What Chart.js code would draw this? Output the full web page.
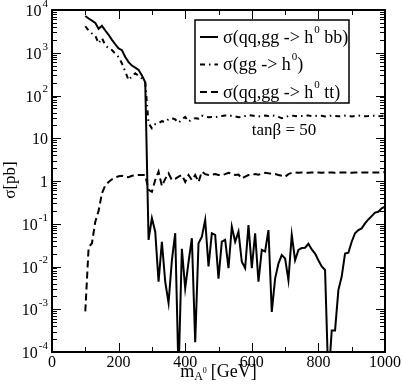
<!DOCTYPE html>
<html>
<head>
<meta charset="utf-8">
<script src="https://cdn.jsdelivr.net/npm/chart.js@4"></script>
<style>
  html, body { margin: 0; padding: 0; background: #fff; }
  #chart { display: block; }
</style>
</head>
<body>
<canvas id="chart" width="403" height="392"></canvas>
<script>
// m_A0 grid [GeV]
const masses = [
  100, 110, 120, 130, 140, 150, 160, 170, 180, 190,
  200, 210, 220, 230, 240, 250, 260, 270, 280, 290,
  300, 310, 320, 330, 340, 350, 360, 370, 380, 390,
  400, 410, 420, 430, 440, 450, 460, 470, 480, 490,
  500, 510, 520, 530, 540, 550, 560, 570, 580, 590,
  600, 610, 620, 630, 640, 650, 660, 670, 680, 690,
  700, 710, 720, 730, 740, 750, 760, 770, 780, 790,
  800, 810, 820, 830, 840, 850, 860, 870, 880, 890,
  900, 910, 920, 930, 940, 950, 960, 970, 980, 990,
  1000
];

// sigma(qq,gg -> h0 bb) [pb]
const sigmaBB = [
  7240, 6310, 5620, 5010, 3630, 4270, 3310, 2630, 2000, 1580,
  1260, 1150, 794, 603, 501, 447, 398, 295, 204, 0.042,
  0.135, 0.065, 0.0044, 0.038, 0.0044, 0.0014, 0.014, 0.060, 0.00003, 0.026,
  0.0031, 0.0126, 0.046, 0.00017, 0.035, 0.050, 0.123, 0.010, 0.060, 0.055,
  0.0052, 0.038, 0.042, 0.0091, 0.085, 0.038, 0.065, 0.0129, 0.0091, 0.093,
  0.0091, 0.060, 0.0044, 0.0245, 0.0224, 0.071, 0.00087, 0.0052, 0.0117, 0.0186,
  0.0155, 0.0048, 0.055, 0.014, 0.0245, 0.027, 0.0275, 0.034, 0.025, 0.020,
  0.014, 0.010, 0.0083, 0.00002, 0.00032, 0.00032, 0.0028, 0.0058, 0.020, 0.021,
  0.038, 0.060, 0.071, 0.078, 0.102, 0.126, 0.151, 0.182, 0.191, 0.229,
  0.251
];

// sigma(gg -> h0) [pb]
const sigmaGG = [
  4170, 3310, 2820, 2510, 1660, 2190, 1510, 1260, 1150, 955,
  794, 562, 363, 229, 282, 331, 288, 251, 200, 22.4,
  17.0, 21.4, 22.4, 25.1, 24.0, 28.2, 29.5, 27.5, 22.9, 27.5,
  31.6, 24.5, 27.5, 29.5, 28.8, 33.9, 31.6, 30.9, 31.6, 30.9,
  32.4, 33.1, 33.9, 34.7, 33.1, 32.4, 30.9, 31.6, 33.1, 34.7,
  33.9, 33.1, 32.4, 33.1, 33.9, 33.1, 34.7, 33.1, 31.6, 29.5,
  30.9, 33.1, 33.9, 33.1, 32.4, 33.1, 33.9, 34.0, 32.8, 33.1,
  33.9, 33.5, 32.4, 33.1, 33.9, 33.1, 32.6, 33.1, 33.9, 33.4,
  32.4, 33.1, 33.9, 33.1, 32.8, 33.1, 33.9, 33.6, 32.6, 33.1,
  33.9
];

// sigma(qq,gg -> h0 tt) [pb]
const sigmaTT = [
  0.00089, 0.028, 0.035, 0.112, 0.20, 0.52, 0.79, 0.95, 1.10, 1.20,
  1.29, 1.32, 1.26, 1.23, 1.32, 1.35, 1.38, 1.38, 1.38, 0.62,
  0.56, 1.05, 1.66, 0.76, 1.12, 1.51, 1.05, 1.12, 1.26, 1.38,
  0.95, 1.38, 1.05, 1.38, 0.95, 1.66, 1.45, 1.38, 1.41, 1.45,
  1.38, 1.38, 1.45, 1.55, 1.48, 1.38, 1.41, 1.15, 1.26, 1.38,
  1.41, 1.45, 1.41, 1.48, 1.55, 1.51, 1.48, 1.45, 1.38, 1.32,
  1.26, 1.45, 1.55, 1.58, 1.55, 1.58, 1.58, 1.55, 1.58, 1.58,
  1.58, 1.55, 1.58, 1.58, 1.58, 1.55, 1.58, 1.58, 1.58, 1.58,
  1.55, 1.58, 1.58, 1.58, 1.58, 1.58, 1.58, 1.58, 1.58, 1.58,
  1.62
];

const xTicks = [0, 200, 400, 600, 800, 1000];
const yTicks = [1e-4, 1e-3, 1e-2, 1e-1, 1, 10, 100, 1000, 10000];
const yTickBase = ['10', '10', '10', '10', '1', '10', '10', '10', '10'];
const yTickExp = ['-4', '-3', '-2', '-1', '', '', '2', '3', '4'];

// legend text: [before superscript, superscript, after]
const seriesLabels = [
  ['σ(qq,gg -> h', '0', ' bb)'],
  ['σ(gg -> h', '0', ')'],
  ['σ(qq,gg -> h', '0', ' tt)']
];
const note = 'tanβ = 50';

const FONT = '"Liberation Serif", "DejaVu Serif", serif';

function toPoints(vals) {
  return masses.map((m, i) => ({ x: m, y: vals[i] }));
}

// draws text pieces side by side, each with own size / vertical shift
function drawPieces(ctx, pieces, x, y, align) {
  let total = 0;
  pieces.forEach(p => {
    ctx.font = `${p.size}px ${FONT}`;
    p.w = ctx.measureText(p.t).width;
    total += p.w + (p.gap || 0);
  });
  let cx = align === 'right' ? x - total : align === 'center' ? x - total / 2 : x;
  pieces.forEach(p => {
    cx += (p.gap || 0);
    ctx.font = `${p.size}px ${FONT}`;
    ctx.fillText(p.t, cx, y + (p.dy || 0));
    cx += p.w;
  });
}

const framePlugin = {
  id: 'frame',
  afterDatasetsDraw(chart) {
    const { ctx, chartArea: a, scales: { x, y } } = chart;
    ctx.save();
    ctx.fillStyle = '#000';
    ctx.strokeStyle = '#000';

    // inward ticks, all four sides
    ctx.lineWidth = 1;
    ctx.beginPath();
    for (let v = 0; v <= 1000; v += 100) {
      const px = Math.round(x.getPixelForValue(v)) + 0.5;
      const len = xTicks.includes(v) ? 9 : 5;
      ctx.moveTo(px, a.bottom); ctx.lineTo(px, a.bottom - len);
      ctx.moveTo(px, a.top); ctx.lineTo(px, a.top + len);
    }
    yTicks.forEach((dec, i) => {
      const steps = i < yTicks.length - 1 ? 9 : 1;
      for (let j = 1; j <= steps; j++) {
        const py = Math.round(y.getPixelForValue(dec * j)) + 0.5;
        const len = j === 1 ? 9 : 5;
        ctx.moveTo(a.left, py); ctx.lineTo(a.left + len, py);
        ctx.moveTo(a.right, py); ctx.lineTo(a.right - len, py);
      }
    });
    ctx.stroke();

    ctx.lineWidth = 2;
    ctx.strokeRect(a.left, a.top, a.right - a.left, a.bottom - a.top);

    // tick labels
    ctx.textBaseline = 'middle';
    ctx.textAlign = 'left';
    xTicks.forEach(v => {
      drawPieces(ctx, [{ t: String(v), size: 16 }], x.getPixelForValue(v), a.bottom + 11, 'center');
    });
    yTicks.forEach((v, i) => {
      const py = y.getPixelForValue(v) + 2;
      const pieces = [{ t: yTickBase[i], size: 16 }];
      if (yTickExp[i]) pieces.push({ t: yTickExp[i], size: 11, dy: -8, gap: 1 });
      drawPieces(ctx, pieces, a.left - 4, py, 'right');
    });

    // axis titles
    drawPieces(ctx, [
      { t: 'm', size: 18 },
      { t: 'A', size: 12, dy: 5 },
      { t: '0', size: 8, dy: -1 },
      { t: '[GeV]', size: 18, gap: 4 }
    ], (a.left + a.right) / 2, 372, 'center');
    ctx.save();
    ctx.translate(11, 180);
    ctx.rotate(-Math.PI / 2);
    drawPieces(ctx, [{ t: 'σ[pb]', size: 17 }], 0, 0, 'center');
    ctx.restore();

    // annotation
    drawPieces(ctx, [{ t: note, size: 17 }], 284, 131, 'center');

    // legend box
    const lx = 195, ly = 20, lw = 154, lh = 83;
    ctx.fillStyle = '#fff';
    ctx.fillRect(lx, ly, lw, lh);
    ctx.lineWidth = 1.5;
    ctx.strokeRect(lx, ly, lw, lh);
    ctx.fillStyle = '#000';
    chart.data.datasets.forEach((ds, i) => {
      const ry = 37 + i * 27.5;
      ctx.save();
      ctx.lineWidth = ds.borderWidth;
      ctx.setLineDash(ds.borderDash || []);
      ctx.beginPath();
      ctx.moveTo(200, ry); ctx.lineTo(218, ry);
      ctx.stroke();
      ctx.restore();
      const [pre, sup, post] = seriesLabels[i];
      drawPieces(ctx, [
        { t: pre, size: 18 },
        { t: sup, size: 11, dy: -8, gap: 1 },
        { t: post, size: 18 }
      ], 223, ry + 1, 'left');
    });
    ctx.restore();
  }
};

new Chart(document.getElementById('chart'), {
  type: 'line',
  data: {
    datasets: [
      {
        label: seriesLabels[0].join(''),
        data: toPoints(sigmaBB),
        borderColor: '#000', borderWidth: 2, pointRadius: 0, tension: 0
      },
      {
        label: seriesLabels[1].join(''),
        data: toPoints(sigmaGG),
        borderColor: '#000', borderWidth: 2, pointRadius: 0, tension: 0,
        borderDash: [5, 4, 1.5, 4]
      },
      {
        label: seriesLabels[2].join(''),
        data: toPoints(sigmaTT),
        borderColor: '#000', borderWidth: 2, pointRadius: 0, tension: 0,
        borderDash: [7, 4]
      }
    ]
  },
  options: {
    responsive: false,
    animation: false,
    devicePixelRatio: 1,
    layout: { padding: { left: 52, right: 18, top: 10, bottom: 40 } },
    scales: {
      x: { type: 'linear', min: 0, max: 1000, display: false },
      y: { type: 'logarithmic', min: 1e-4, max: 1e4, display: false }
    },
    plugins: {
      legend: { display: false },
      tooltip: { enabled: false }
    }
  },
  plugins: [framePlugin]
});
</script>
</body>
</html>
